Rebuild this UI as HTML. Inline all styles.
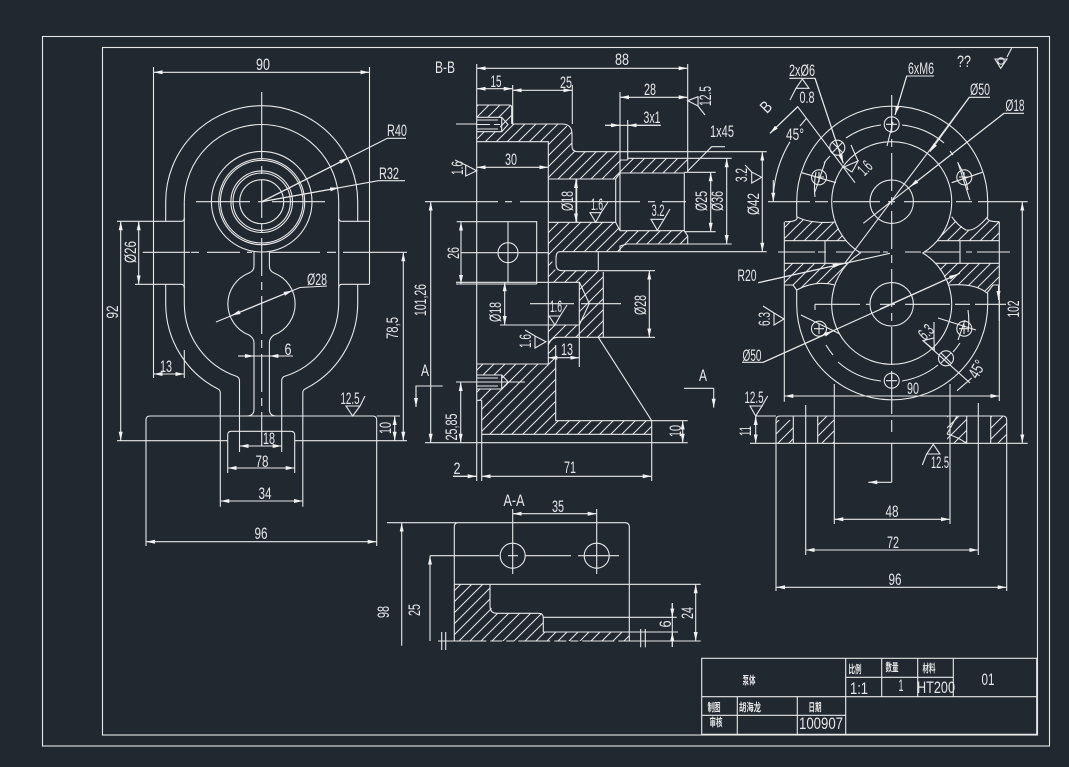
<!DOCTYPE html>
<html><head><meta charset="utf-8"><style>
html,body{margin:0;padding:0;background:#212830}
svg{display:block}
.d{marker-start:url(#a);marker-end:url(#a)}
.e{marker-end:url(#a)}
.c{stroke-dasharray:38 6 8 6}
text{font-family:"Liberation Sans","Noto Sans CJK SC",sans-serif;font-size:17px;fill:#e6e6e6;stroke:none;text-anchor:middle}
.k{font-size:11px;font-weight:bold}
</style></head><body>
<svg width="1069" height="767" viewBox="0 0 1069 767" xmlns="http://www.w3.org/2000/svg">
<defs>
<marker id="a" markerUnits="userSpaceOnUse" markerWidth="10" markerHeight="6" refX="9" refY="3" orient="auto-start-reverse"><path d="M0 1L9 3L0 5Z" fill="#f2f2f2"/></marker>
<pattern id="h" width="11" height="11" patternUnits="userSpaceOnUse"><path d="M-2 2L2 -2M0 11L11 0M9 13L13 9" stroke="#e6e6e6" stroke-width="1" fill="none"/></pattern>
</defs>
<rect width="1069" height="767" fill="#212830"/>
<g fill="none" stroke="#e8e8e8" stroke-width="1.1">
<rect x="42.5" y="36.5" width="1007" height="709.5"/>
<rect x="102.5" y="47.5" width="935" height="687.5"/>

<!-- FRONT VIEW -->
<path d="M165.7 221V201.7A96 96 0 0 1 357.7 201.7V221"/>
<path d="M184.3 201.7V304A77 77 0 0 0 237 376.5Q239.5 378 239.5 381V452"/>
<path d="M338.7 201.7V304A77 77 0 0 1 284 376.5Q281.7 378 281.7 381V452"/>
<path d="M184.3 201.7A77.2 77.2 0 0 1 338.7 201.7"/>
<path d="M165.7 284.3V304A96 96 0 0 0 218 389Q220.3 390 220.3 393V506.7"/>
<path d="M357.7 284.3V304A96 96 0 0 1 305 389Q302.8 390 302.8 393V506.7"/>
<path d="M153.5 67V378M369.5 67V284.3M184.3 378V350"/>
<path d="M117 221.3H181Q184.3 221.3 184.3 218M135 284.3H181Q184.3 284.3 184.3 288M338.7 218Q338.7 221.3 342 221.3H369.5M338.7 288Q338.7 284.3 342 284.3H369.5"/>
<circle cx="261.7" cy="201.7" r="50.3"/><circle cx="261.7" cy="201.7" r="43"/><circle cx="261.7" cy="201.7" r="41.3"/><circle cx="261.7" cy="201.7" r="30.8"/><circle cx="261.7" cy="201.7" r="28.7"/><circle cx="261.7" cy="201.7" r="22"/>
<path d="M254 251V266Q254 271 249 273A33.3 33.3 0 0 0 249 335Q254 338 254 343V409Q254 416 247 416"/>
<path d="M269.4 251V266Q269.4 271 274 273A33.3 33.3 0 0 1 274 335Q269.4 338 269.4 343V409Q269.4 416 276 416"/>
<path d="M146 546V420Q146 416 150 416H372.7Q376.7 416 376.7 420V546"/>
<path d="M227.7 473V435Q227.7 431.3 231 431.3H291Q294.7 431.3 294.7 435V473"/>
<path d="M117 440.7H227.7M294.7 440.7H407"/>
<path d="M261.7 92V122"/><path class="c" d="M261.7 122V446"/>
<path d="M196 201.7H250M258 201.7H264M272 201.7H325"/>
<path d="M142.7 252.3H190M191 252.3H199M207 252.3H240M247 252.3H252M270 252.3H320M327 252.3H336M343 252.3H407"/>
<path class="d" d="M153.5 72.3H369.5"/>
<path class="d" d="M153.5 374H184.3"/>
<path class="d" d="M138.7 221.3V284.3"/>
<path class="d" d="M120.7 221.3V440.7"/>
<path class="d" d="M403.3 252.3V440.7"/>
<path class="d" d="M394.7 416V440.7"/><path d="M376.7 416H400"/>
<path class="d" d="M146 541.7H376.7"/>
<path class="d" d="M220.3 501H302.8"/>
<path class="d" d="M227.7 468H294.7"/>
<path class="d" d="M239.5 446H281.7"/>
<path d="M238 356H293"/><path class="e" d="M238 356H254"/><path class="e" d="M293 356H269.4"/>
<path d="M216 322L300 287.5L327 286"/><path class="d" d="M231.5 315.5L292.5 290.5"/>
<path d="M261.7 201.7L387.3 138.3H406"/><path class="e" d="M261.7 201.7L348 158"/>
<path d="M261.7 201.7L378.3 180.7H405"/><path class="e" d="M261.7 201.7L339 187.8"/>
<path d="M346 406H360L352.7 416ZM360 406L365 396"/>

<!-- SECTION B-B hatch -->
<path fill="url(#h)" stroke="none" d="M476.7 105H511.7V124H565L572 132V148L577 152H620V160H627.7V158.3H687.7V167L683.3 172.7H620L615.7 179H548.3V141.7H476.7V132H500V117H476.7Z"/>
<path fill="url(#h)" stroke="none" d="M548.3 222.3H615.7L620 230.7H683L687.7 236V244H627V251.7H556Q548.3 258 556 270.7H603.3V337.3H579.3V282.3H548.3Z"/>
<path fill="url(#h)" stroke="none" d="M548.3 325H579.3V337.3H558L555.7 345V420.7H651.7V434.3H481.7V400.3H476.7V389H501.7V375H476.7V364H548.3Z"/>
<path d="M476.7 64V481"/><path d="M476.7 105H509.5Q511.7 105 511.7 108V124M512.7 85V124"/>
<path d="M512 124H562Q572 124 572 134V146Q572 151.7 578 151.7H766.7"/>
<path d="M476.7 117.3H501.7V131.7H476.7M501.7 117.3L508 124.5L501.7 131.7M476.7 120H498M476.7 129H498"/>
<path d="M476.7 141.7H548.3V364"/><path d="M456 124H476.7M476 124.5H490M494 124.5H500"/>
<path d="M572.3 85V124M620 92V173M627.7 120V160M687.7 64V172"/>
<path d="M620 160H627.7M627.7 158.3H731.7"/>
<path d="M548.3 179H615.7L620 173H684.3V230.7H620L615.7 222.3H548.3M615.7 179V222.3M620 173V230.7M576.7 179V222.3M684.3 172.3H715.7M684.3 231.7H715.7"/>
<path d="M687.7 171L711.7 146.7H725"/>
<path d="M684.3 230.7L687.7 236V244H627M687.7 244H731.7M627 244L620 246V251.7H766.7"/>
<path d="M620 251.7H560Q556 251.7 556 258V264Q556 270.7 562 270.7H655M598.3 251.7V270.7M603.3 272V337.3M579.3 282.3V367"/>
<path d="M579.3 282L589.3 303.5L579.3 325"/>
<path d="M456 282.3H579.3M500 325H579.3M558 337.3H655M548.3 345Q551 337.3 558 337.3"/>
<path d="M555.7 345V420.7H687.7M651.7 420.7V481M598.3 337.3L651.7 420.7"/>
<path d="M481.7 420V481M476.7 364H548.3M476.7 375H501.7V389H476.7M476.7 378H498M476.7 386H498M501.7 375L508.3 382L501.7 389M481.7 434.3H651.7M481.7 400.3V434.3M476.7 400.3H481.7"/>
<path d="M425 442.7H687.7"/>
<path d="M456 382H525"/>
<path d="M530 303.7H574M581 303.7H621"/>
<path d="M456.7 221.7H536.7V284M456 284H536.7"/><circle cx="508" cy="252.7" r="10"/><path d="M508 221.7V282M461 252.7H548"/>
<path d="M425 201.7H498M505 201.7H512M520 201.7H640M648 201.7H655M662 201.7H686"/>
<path class="d" d="M476.7 68.3H687.7"/>
<path class="d" d="M476.7 88.7H512.7"/>
<path class="d" d="M512.7 90.3H572.3"/>
<path class="d" d="M620 97.3H687.7"/>
<path d="M605 125.3H660.7"/><path class="e" d="M605 125.3H620"/><path class="e" d="M660.7 125.3H627.7"/>
<path class="d" d="M476.7 167.3H548.3"/>
<path class="d" d="M576 179V222.3"/>
<path class="d" d="M710.7 172.3V231.7"/>
<path class="d" d="M726.7 158.3V244"/>
<path class="d" d="M461 221.7V284"/>
<path class="d" d="M430.7 201.7V442.7"/>
<path class="d" d="M460.7 382V442.7"/><path d="M456 382H476"/>
<path class="d" d="M504.7 282.3V325"/>
<path class="d" d="M649.3 270.7V337.3"/>
<path class="d" d="M548.3 357.7H579.3"/>
<path class="d" d="M682.7 420.7V442.7"/>
<path d="M453 476.3H476.7"/><path class="e" d="M453 476.3H476.7"/><path class="d" d="M481.7 476.3H651.7"/>
<path d="M687.7 100.7L698 96.7V106ZM698 106L705 115"/>
<path d="M476.7 170.7L465.7 165V176ZM465.7 165L455 160"/>
<path d="M595.7 222.3L590 212.7H601ZM601 212.7L608 202"/>
<path d="M657.3 230.3L651 219.3H664ZM664 219.3L670 209"/>
<path d="M555 325L549 316H560ZM560 316L567 305"/>
<path d="M546 341.7L535 336V348ZM535 336L525 330"/>
<path d="M416 407V386H442.7"/><path class="e" d="M416 386V407"/>
<path d="M684 388.3H713.7"/><path class="e" d="M713.7 388.3V407.7"/>

<!-- A-A VIEW -->
<path fill="url(#h)" stroke="none" d="M454.3 584.3H490V606L495 613.3H541.7L543.3 617V632H629.3V641H454.3Z"/>
<path d="M387 522.7H458Q454.3 522.7 454.3 527V641M458 522.7H625Q629.3 522.7 629.3 527V641"/>
<path d="M454.3 584.3H700.7M490 584.3V606Q490 613.3 497 613.3H539Q543.3 613.3 543.3 618V632H678M543.3 617.3H676.7"/>
<path stroke-dasharray="32 4 12 4 8 4" d="M454.3 641H629"/><path d="M629 641H700.7M438 641H454.3"/>
<circle cx="512.7" cy="555.7" r="12.5"/><circle cx="596.7" cy="555.7" r="12.5"/>
<path d="M430 555.7H499M525 555.7H571M578 555.7H619M512.7 509V574M596.7 509V574M508 555.7H518M592 555.7H602"/>
<path class="d" d="M512.7 513.7H596.7"/>
<path class="e" d="M401.7 645.7V522.7"/>
<path class="e" d="M430 641V555.7"/>
<path d="M672.3 603V647"/><path class="e" d="M672.3 603V617.3"/><path class="e" d="M672.3 647V632"/>
<path class="d" d="M695.7 584.3V641"/>
<path d="M441.7 632V650M445.7 632V650M640.7 629V647.3M645.3 629V647.3"/>

<!-- RIGHT VIEW -->
<path fill="url(#h)" stroke="none" d="M784.3 221.7H793L797 217Q810 224 835 222L846 240.7H784.3ZM784.3 263.3H848L835 285Q815 280 797 290L793 285H784.3ZM951.7 217L966 230Q975 232 987 217L990 221.7H999.3V240.7H937.5L948 222ZM935.5 263.3H999.3V285H993L987 293Q975 283 949 285ZM776 420H793.3V443.3H776ZM817.7 416H834.3V443.3H817.7ZM947 416H966.7V443.3H947ZM990.7 416H1006.7V443.3H990.7Z"/>
<path d="M796.7 216.7V201.7A95.5 95.5 0 0 1 987.7 201.7V216.7"/>
<path d="M796.7 216.7Q799 221.7 785 221.7M796.7 216.7Q810 224 835 222M987.7 216.7Q985 221.7 999.3 221.7M987.7 216.7Q975 232 966 230Q958 226 951.7 216.7"/>
<path d="M784.3 221.7V401.7M999.3 221.7V401"/>
<path d="M784.3 240.7H846M784.3 263.3H848M825 240.7V263.3M960 240.7V263.3M937.5 240.7H999.3M935.5 263.3H999.3"/>
<path d="M860.6 253A60 60 0 1 1 922.8 253A60 60 0 1 1 860.6 253"/>
<circle cx="891.7" cy="201.7" r="21.7"/><circle cx="891.7" cy="304.3" r="21.7"/>
<path d="M796.7 304.3A95.5 95.5 0 0 0 987.7 304.3M796.7 290V304.3M987.7 293V304.3"/>
<path d="M784.3 285H793L796.7 290Q815 280 835 285M999.3 285H993L987 293Q975 283 949 285"/>
<circle cx="891.7" cy="124.3" r="7.5"/><circle cx="837.3" cy="147.7" r="7.5"/><circle cx="819" cy="177.3" r="7.5"/><circle cx="964.3" cy="177.3" r="7.5"/>
<circle cx="819" cy="328.7" r="7.5"/><circle cx="964.3" cy="328.7" r="7.5"/><circle cx="946" cy="358.3" r="7.5"/><circle cx="891.7" cy="380.7" r="7.5"/>
<path d="M815 197A77 77 0 0 1 816 172M824 163A77 77 0 0 1 830 156M846 138A77 77 0 0 1 881 125M902 125A77 77 0 0 1 944 143M950 151L953 155M958 163A77 77 0 0 1 968 190"/>
<path d="M815 304.3V310M826 345A77 77 0 0 0 833 355M838 362A77 77 0 0 0 881 381M902 381A77 77 0 0 0 938 365M953 352A77 77 0 0 0 960 343M968 332A77 77 0 0 0 968 310"/>
<path d="M801.7 172.7L836 182.7M825 162.3L815 191.7M957.7 162L970 200M951.7 182.7L982.3 172.3M893 122L887 146"/>
<path d="M886 124.3H897M891.7 119V129M832 142L843 153M843 142L832 153M814 177H824M819 172V182M959 177H969M964 172V182M814 328.7H824M819 324V334M959 328.7H969M964 324V334M941 353L951 363M951 353L941 363M886 380.7H897M891.7 375V386"/>
<path d="M801 315L840 334M976 330L938 318M958 340L965 320"/>
<path d="M768 201.7H810M815 201.7H828M833 201.7H880M888 201.7H895M904 201.7H950M956 201.7H972M978 201.7H1027.7"/>
<path d="M778 252H815M818 252H826M836 252H853M858 252H880M883 252H888M905 252H921M925 252H960M966 252H972M977 252H1010"/>
<path d="M815 304.3H860M866 304.3H870M880 304.3H895M905 304.3H950M955 304.3H970M975 304.3H1006"/>
<path class="c" d="M891.7 95V414"/><path d="M891.7 420V432M891.7 443V482.3"/><path class="e" d="M891.7 482.3H868.3"/>
<path d="M776 420Q776 416 780 416H1002.7Q1006.7 416 1006.7 420V591M776 420V591M755 416H776M750 443.3H1027.7"/>
<path d="M793.3 416V443.3M817.7 416V443.3M834.3 384V524M947 434Q952 425 957 416M947 434Q958 437 966 443M966.7 416V443.3M950 384V524M990.7 416V443.3M805.7 405V555M978.3 403V555"/>
<path class="d" d="M834.3 519.3H950"/>
<path class="d" d="M805.7 550H978.3"/>
<path class="d" d="M776 587.3H1006.7"/>
<path class="d" d="M784.3 396H999.3"/>
<path class="d" d="M755.7 416V443.3"/>
<path class="d" d="M1022.3 201.7V443.3"/>
<path class="d" d="M762.3 151.7V251.7"/>
<path class="e" d="M998.5 285V300"/><path d="M999.3 300V321"/>
<path d="M789.3 78.3H815L843.3 163.3"/><path class="e" d="M815 78.3L843.3 163.3"/>
<path d="M802.3 79L796 88.3H809ZM796 88.3L790 100"/>
<path d="M934 76H906.7L895 115"/><path class="e" d="M906.7 76L895 115"/>
<path d="M990 97.3H969.3L845 263"/><path class="e" d="M969.3 97.3L930 151.7"/>
<path d="M1024 113.3H1004L863.3 223.3"/><path class="e" d="M1004 113.3L910 186.7"/>
<path d="M770 133.3L797.7 106.7L855 182.7"/><path class="e" d="M797.7 106.7L770 133.3"/>
<path d="M773.3 196A118.3 118.3 0 0 1 790 141.7"/><path class="e" d="M773.3 180Q773.3 190 773.3 201.7"/>
<path d="M806.7 118L800 126"/>
<path d="M844 167L858 161L852 172ZM858 161L851 145"/>
<path d="M758.3 282.7L890 253.3"/><path class="e" d="M758.3 282.7L841.7 264"/>
<path d="M742 362.3H763.3L960 273.3"/><path class="e" d="M763.3 362.3L833 331"/><path class="e" d="M880 309L958 274"/>
<path d="M784 319L774 313V325ZM774 313L763 306"/>
<path d="M761.7 177.3L751.7 172V183ZM751.7 172L745 165"/>
<path d="M934.3 350L923 340.7L934 338ZM934 338V322"/>
<path d="M923 340.7L970 383"/>
<path d="M957 390.7L971.7 378"/>
<path d="M755.7 416L750 406H762ZM762 406L767.7 396"/>
<path d="M933.3 444.3L926.7 454H940ZM926.7 454L922.3 465"/>
<path d="M1000.7 68.3L995 59H1007ZM1007 57L1011.7 48"/><circle cx="1001" cy="61" r="3.2"/>

<!-- TITLE BLOCK -->
<rect x="701.7" y="658.3" width="335" height="76"/>
<path d="M701.7 696.7H1036.7M845.7 658.3V734.3M881.7 658.3V696.7M917.7 658.3V696.7M953.3 658.3V696.7M845.7 677.3H953.3M737.3 696.7V734.3M797.3 696.7V734.3M701.7 715.3H845.7"/>
</g>

<!-- TEXT -->
<text x="263" y="70" textLength="14" lengthAdjust="spacingAndGlyphs">90</text>
<text x="397" y="136" textLength="20" lengthAdjust="spacingAndGlyphs">R40</text>
<text x="389" y="179" textLength="20" lengthAdjust="spacingAndGlyphs">R32</text>
<text x="317" y="285" textLength="20" lengthAdjust="spacingAndGlyphs">Ø28</text>
<text x="166" y="372" textLength="12" lengthAdjust="spacingAndGlyphs">13</text>
<text x="288" y="355" textLength="7" lengthAdjust="spacingAndGlyphs">6</text>
<text x="350" y="404" textLength="19" lengthAdjust="spacingAndGlyphs">12.5</text>
<text x="269" y="444" textLength="12" lengthAdjust="spacingAndGlyphs">18</text>
<text x="262" y="467" textLength="13" lengthAdjust="spacingAndGlyphs">78</text>
<text x="265" y="499" textLength="13" lengthAdjust="spacingAndGlyphs">34</text>
<text x="261" y="539" textLength="13" lengthAdjust="spacingAndGlyphs">96</text>
<text transform="translate(136 252) rotate(-90)" textLength="22" lengthAdjust="spacingAndGlyphs">Ø26</text>
<text transform="translate(118 312) rotate(-90)" textLength="13" lengthAdjust="spacingAndGlyphs">92</text>
<text transform="translate(398 328) rotate(-90)" textLength="22" lengthAdjust="spacingAndGlyphs">78,5</text>
<text transform="translate(391 428) rotate(-90)" textLength="12" lengthAdjust="spacingAndGlyphs">10</text>

<text x="445" y="73" textLength="20" lengthAdjust="spacingAndGlyphs">B-B</text>
<text x="622" y="65" textLength="14" lengthAdjust="spacingAndGlyphs">88</text>
<text x="496" y="87" textLength="11" lengthAdjust="spacingAndGlyphs">15</text>
<text x="566" y="88" textLength="12" lengthAdjust="spacingAndGlyphs">25</text>
<text x="650" y="95" textLength="12" lengthAdjust="spacingAndGlyphs">28</text>
<text x="652" y="123" textLength="17" lengthAdjust="spacingAndGlyphs">3x1</text>
<text x="722" y="137" textLength="24" lengthAdjust="spacingAndGlyphs">1x45</text>
<text x="511" y="165" textLength="12" lengthAdjust="spacingAndGlyphs">30</text>
<text x="597" y="210" textLength="12" lengthAdjust="spacingAndGlyphs">1.6</text>
<text x="658" y="216" textLength="13" lengthAdjust="spacingAndGlyphs">3.2</text>
<text x="556" y="312" textLength="12" lengthAdjust="spacingAndGlyphs">1.6</text>
<text x="567" y="355" textLength="12" lengthAdjust="spacingAndGlyphs">13</text>
<text x="425" y="376" textLength="8" lengthAdjust="spacingAndGlyphs">A</text>
<text x="703" y="381" textLength="8" lengthAdjust="spacingAndGlyphs">A</text>
<text x="570" y="473" textLength="12" lengthAdjust="spacingAndGlyphs">71</text>
<text x="457" y="474" textLength="7" lengthAdjust="spacingAndGlyphs">2</text>
<text transform="translate(711 96) rotate(-90)" textLength="20" lengthAdjust="spacingAndGlyphs">12.5</text>
<text transform="translate(463 168) rotate(-90)" textLength="14" lengthAdjust="spacingAndGlyphs">1.6</text>
<text transform="translate(573 201) rotate(-90)" textLength="20" lengthAdjust="spacingAndGlyphs">Ø18</text>
<text transform="translate(707 201) rotate(-90)" textLength="20" lengthAdjust="spacingAndGlyphs">Ø25</text>
<text transform="translate(723 201) rotate(-90)" textLength="20" lengthAdjust="spacingAndGlyphs">Ø36</text>
<text transform="translate(459 253) rotate(-90)" textLength="12" lengthAdjust="spacingAndGlyphs">26</text>
<text transform="translate(426 300) rotate(-90)" textLength="32" lengthAdjust="spacingAndGlyphs">101,26</text>
<text transform="translate(501 312) rotate(-90)" textLength="20" lengthAdjust="spacingAndGlyphs">Ø18</text>
<text transform="translate(646 305) rotate(-90)" textLength="20" lengthAdjust="spacingAndGlyphs">Ø28</text>
<text transform="translate(531 341) rotate(-90)" textLength="14" lengthAdjust="spacingAndGlyphs">1.6</text>
<text transform="translate(457 427) rotate(-90)" textLength="27" lengthAdjust="spacingAndGlyphs">25,85</text>
<text transform="translate(681 431) rotate(-90)" textLength="12" lengthAdjust="spacingAndGlyphs">10</text>

<text x="514" y="506" textLength="21" lengthAdjust="spacingAndGlyphs">A-A</text>
<text x="558" y="512" textLength="12" lengthAdjust="spacingAndGlyphs">35</text>
<text transform="translate(389 612) rotate(-90)" textLength="12" lengthAdjust="spacingAndGlyphs">98</text>
<text transform="translate(420 610) rotate(-90)" textLength="12" lengthAdjust="spacingAndGlyphs">25</text>
<text transform="translate(671 624) rotate(-90)" textLength="7" lengthAdjust="spacingAndGlyphs">6</text>
<text transform="translate(693 613) rotate(-90)" textLength="12" lengthAdjust="spacingAndGlyphs">24</text>

<text x="802" y="76" textLength="26" lengthAdjust="spacingAndGlyphs">2xØ6</text>
<text x="807" y="103" textLength="15" lengthAdjust="spacingAndGlyphs">0.8</text>
<text x="921" y="74" textLength="26" lengthAdjust="spacingAndGlyphs">6xM6</text>
<text x="964" y="67" textLength="14" lengthAdjust="spacingAndGlyphs">??</text>
<text x="980" y="95" textLength="20" lengthAdjust="spacingAndGlyphs">Ø50</text>
<text x="1015" y="111" textLength="19" lengthAdjust="spacingAndGlyphs">Ø18</text>
<text transform="translate(770 111) rotate(-45)" textLength="9" lengthAdjust="spacingAndGlyphs">B</text>
<text x="795" y="140" textLength="18" lengthAdjust="spacingAndGlyphs">45°</text>
<text transform="translate(869 172) rotate(-45)" textLength="13" lengthAdjust="spacingAndGlyphs">1.6</text>
<text x="747" y="281" textLength="19" lengthAdjust="spacingAndGlyphs">R20</text>
<text x="752" y="361" textLength="19" lengthAdjust="spacingAndGlyphs">Ø50</text>
<text transform="translate(747 175) rotate(-90)" textLength="14" lengthAdjust="spacingAndGlyphs">3.2</text>
<text transform="translate(759 204) rotate(-90)" textLength="22" lengthAdjust="spacingAndGlyphs">Ø42</text>
<text transform="translate(770 319) rotate(-90)" textLength="14" lengthAdjust="spacingAndGlyphs">6.3</text>
<text transform="translate(930 336) rotate(-45)" textLength="14" lengthAdjust="spacingAndGlyphs">6.3</text>
<text transform="translate(982 372) rotate(-60)" textLength="18" lengthAdjust="spacingAndGlyphs">45°</text>
<text x="913" y="394" textLength="12" lengthAdjust="spacingAndGlyphs">90</text>
<text x="754" y="403" textLength="19" lengthAdjust="spacingAndGlyphs">12.5</text>
<text x="940" y="468" textLength="18" lengthAdjust="spacingAndGlyphs">12.5</text>
<text transform="translate(751 431) rotate(-90)" textLength="10" lengthAdjust="spacingAndGlyphs">11</text>
<text transform="translate(1019 309) rotate(-90)" textLength="17" lengthAdjust="spacingAndGlyphs">102</text>
<text x="892" y="517" textLength="13" lengthAdjust="spacingAndGlyphs">48</text>
<text x="893" y="548" textLength="12" lengthAdjust="spacingAndGlyphs">72</text>
<text x="895" y="585" textLength="13" lengthAdjust="spacingAndGlyphs">96</text>

<text class="k" x="749" y="684" textLength="13" lengthAdjust="spacingAndGlyphs">泵体</text>
<text class="k" x="855" y="673" textLength="13" lengthAdjust="spacingAndGlyphs">比例</text>
<text class="k" x="892" y="671" textLength="13" lengthAdjust="spacingAndGlyphs">数量</text>
<text class="k" x="929" y="672" textLength="13" lengthAdjust="spacingAndGlyphs">材料</text>
<text x="859" y="694" textLength="18" lengthAdjust="spacingAndGlyphs">1:1</text>
<text x="901" y="691" textLength="5" lengthAdjust="spacingAndGlyphs">1</text>
<text x="936" y="693" textLength="38" lengthAdjust="spacingAndGlyphs">HT200</text>
<text x="988" y="685" textLength="13" lengthAdjust="spacingAndGlyphs">01</text>
<text class="k" x="714" y="711" textLength="13" lengthAdjust="spacingAndGlyphs">制图</text>
<text class="k" x="750" y="711" textLength="22" lengthAdjust="spacingAndGlyphs">胡海龙</text>
<text class="k" x="815" y="711" textLength="13" lengthAdjust="spacingAndGlyphs">日期</text>
<text class="k" x="716" y="726" textLength="13" lengthAdjust="spacingAndGlyphs">审核</text>
<text x="821" y="729" textLength="44" lengthAdjust="spacingAndGlyphs">100907</text>
</svg>
</body></html>
